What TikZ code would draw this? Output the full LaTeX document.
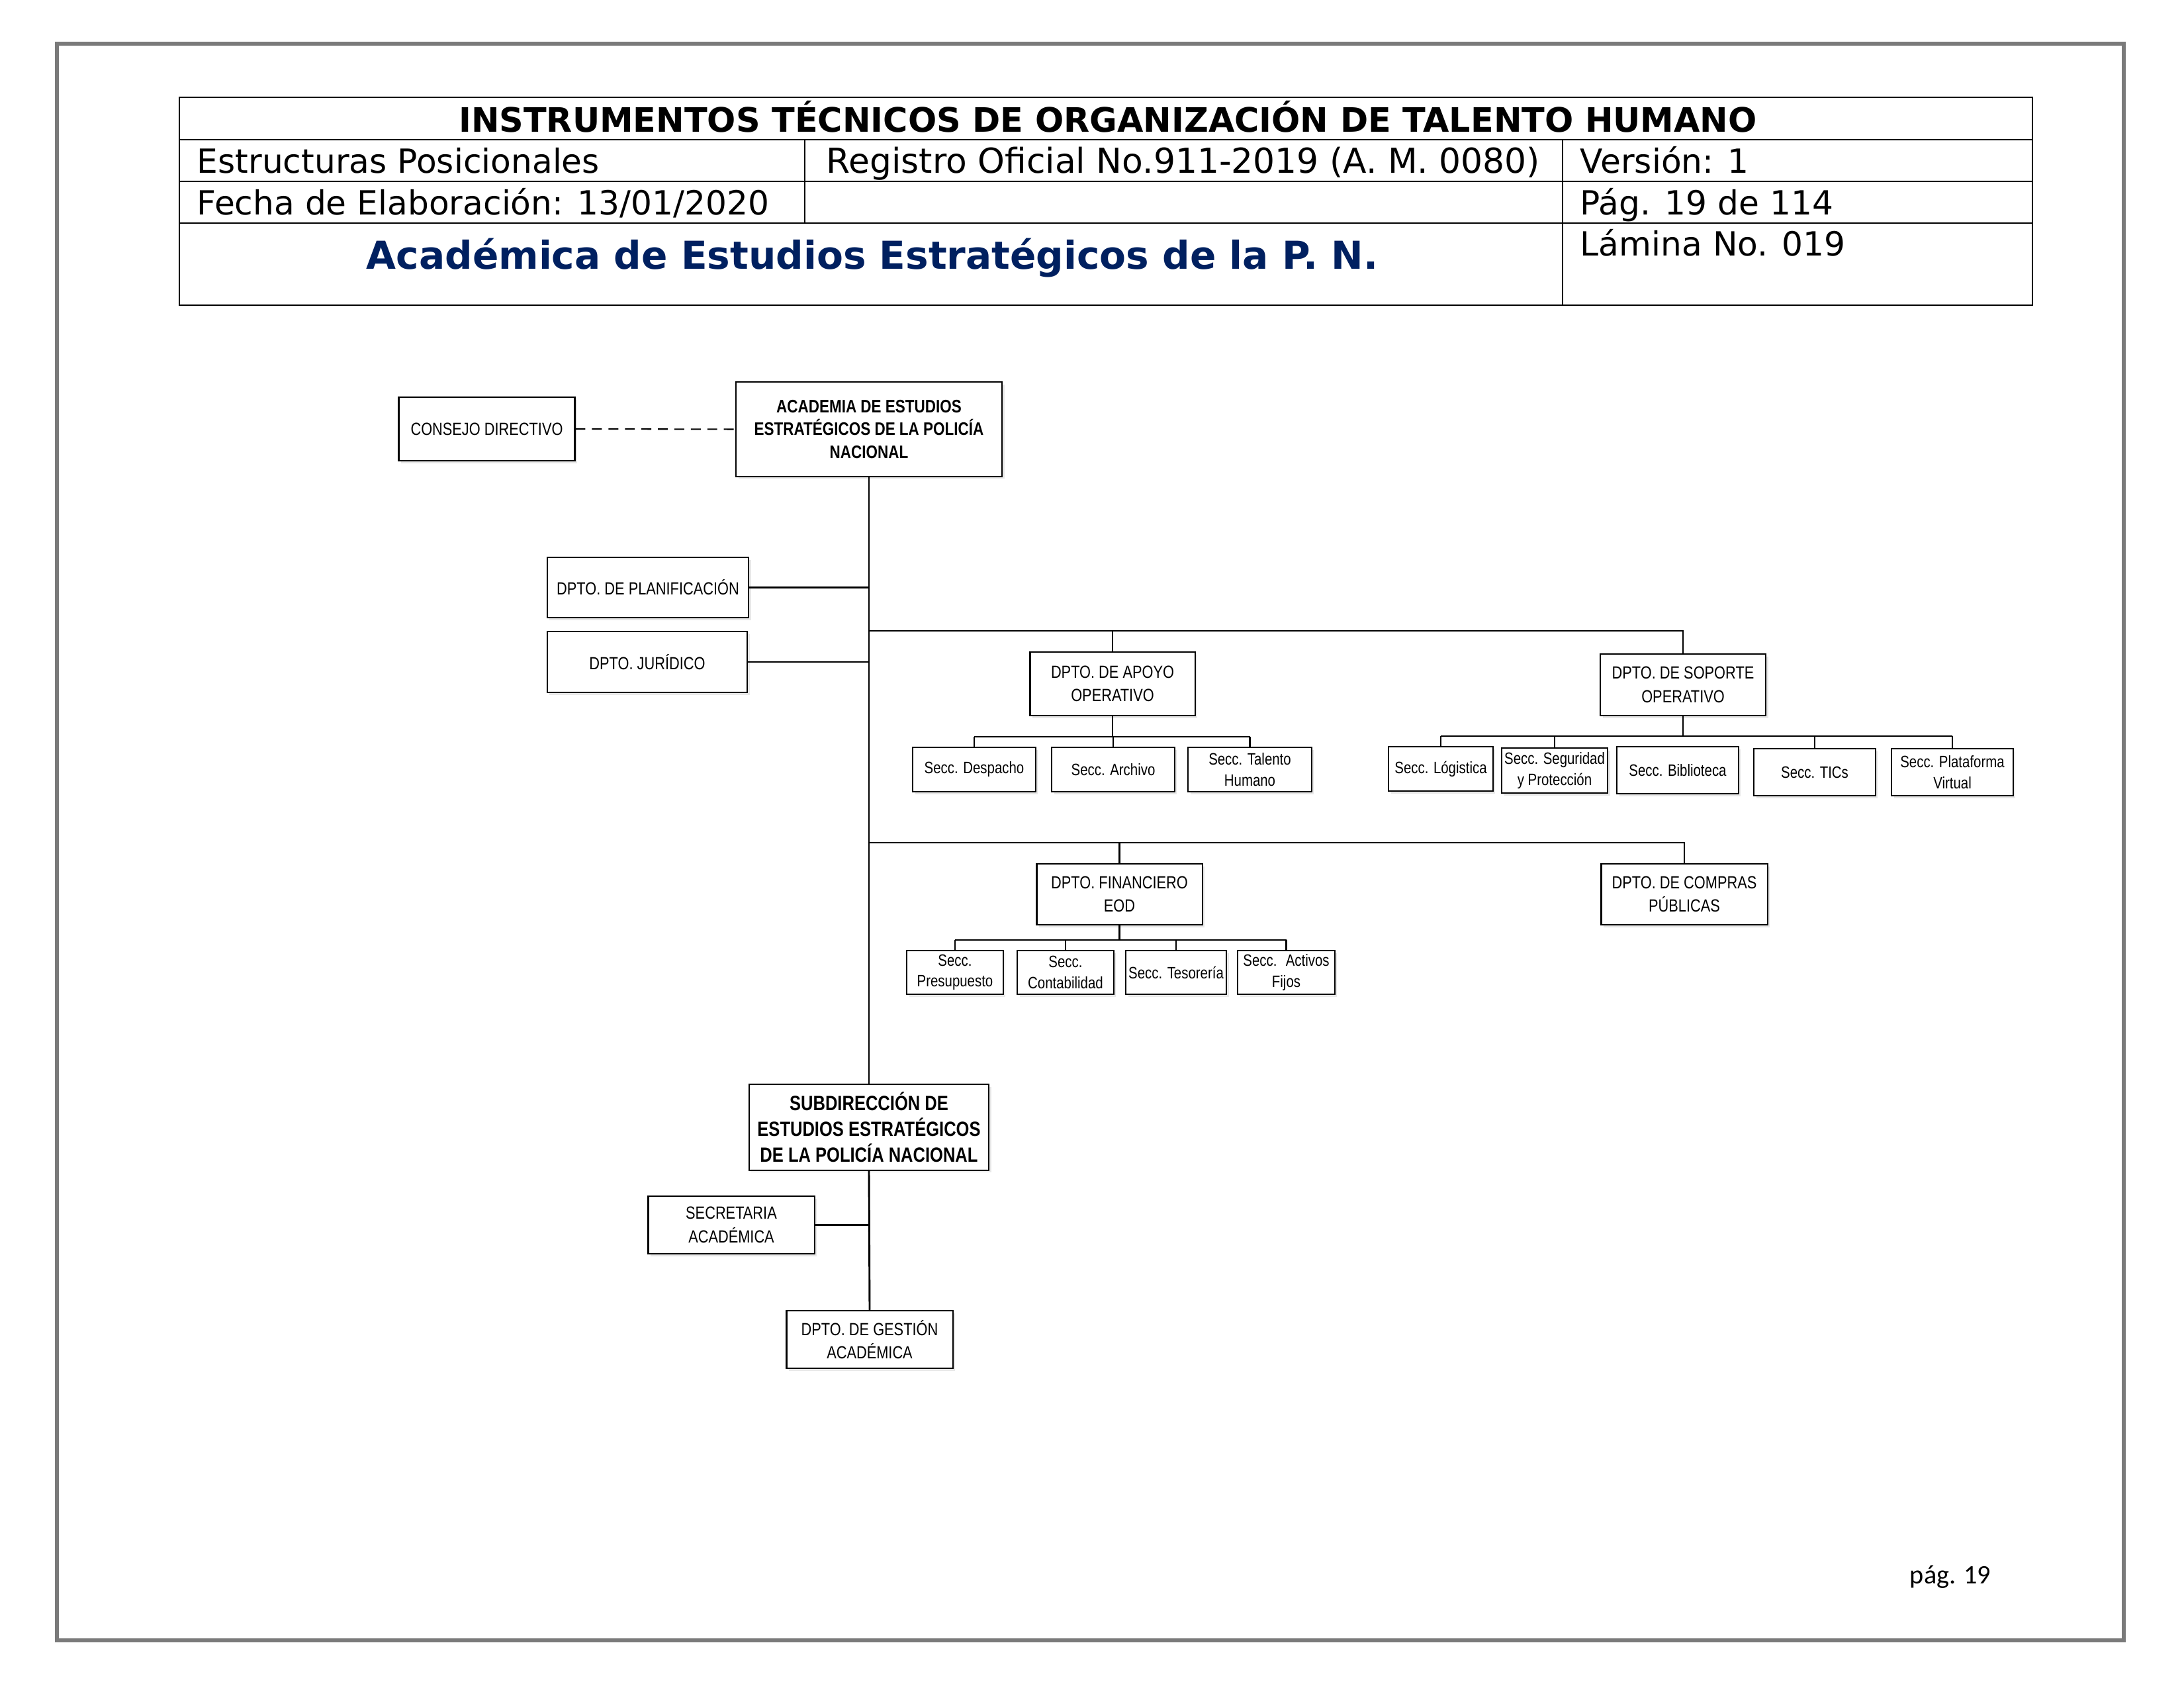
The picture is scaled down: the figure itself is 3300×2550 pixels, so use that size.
\documentclass[tikz,border=0pt]{standalone}
\usepackage{fontspec}
\setmainfont{DejaVu Sans}
\newfontfamily\orgfont[FakeStretch=0.82]{Liberation Sans}
\newfontfamily\pagefont{Carlito}
\usepackage{xcolor}
\usepackage{tikz}
\usetikzlibrary{positioning,shadows}

\definecolor{azultitulo}{RGB}{0,32,96}
\definecolor{grismarco}{RGB}{122,122,122}

\tikzset{
    tam/.style 2 args={minimum width=#1*0.24pt, minimum height=#2*0.24pt},
    caja/.style={draw, fill=white, line width=0.5pt, align=center, inner sep=1pt,
        drop shadow={shadow xshift=0.9pt, shadow yshift=-0.9pt, opacity=0.18},
        font=\orgfont\fontsize{6.4}{8.6}\selectfont},
    cajanegrita/.style={caja, font=\orgfont\bfseries\fontsize{6.6}{8.4}\selectfont},
    secc/.style={caja, font=\orgfont\fontsize{6}{7.6}\selectfont},
    linea/.style={line width=0.7pt},
    fino/.style={line width=0.5pt},
    celda/.style={anchor=base west, inner sep=0pt, font=\fontsize{12.1}{14}\selectfont}
}

\begin{document}
\begin{tikzpicture}[x=0.0846667mm, y=-0.0846667mm]
        \useasboundingbox (0,0) rectangle (3300,2550);

        % Page frame
        \draw[grismarco, line width=1.4pt] (86,66) rectangle (3209,2478);

        % Header table
        \draw[line width=0.6pt] (271,147) rectangle (3071,461);
        \draw[line width=0.6pt] (271,211) -- (3071,211);
        \draw[line width=0.6pt] (271,274) -- (3071,274);
        \draw[line width=0.6pt] (271,337) -- (3071,337);
        \draw[line width=0.5pt] (1216,211) -- (1216,337);
        \draw[line width=0.5pt] (2361,211) -- (2361,461);

        \node[anchor=base, inner sep=0pt, font=\bfseries\fontsize{12.25}{14}\selectfont] (titulo) at (1674,200) {INSTRUMENTOS TÉCNICOS DE ORGANIZACIÓN DE TALENTO HUMANO};
        \node[celda] (estructuras) at (297,262) {Estructuras Posicionales};
        \node[celda, anchor=base, font=\fontsize{12.5}{14}\selectfont] (registro) at (1788,262) {Registro Oficial No.911-2019 (A. M. 0080)};
        \node[celda] (version) at (2387,262) {Versión: 1};
        \node[celda] (fecha) at (297,325) {Fecha de Elaboración: 13/01/2020};
        \node[celda] (pagina) at (2387,325) {Pág. 19 de 114};
        \node[anchor=base, inner sep=0pt, text=azultitulo, font=\bfseries\fontsize{14}{16}\selectfont] (academica) at (1318,407) {Académica de Estudios Estratégicos de la P. N.};
        \node[celda] (lamina) at (2387,387) {Lámina No. 019};

        % Top level
        \node[caja, tam={267}{96}] (consejo) at (735.5,648) {CONSEJO DIRECTIVO};
        \node[cajanegrita, tam={404}{143}] (acad) at (1313,648.5) {ACADEMIA DE ESTUDIOS\\ESTRATÉGICOS DE LA POLICÍA\\NACIONAL};
        \node[caja, tam={306}{91}] (planif) at (979,887.5) {DPTO. DE PLANIFICACIÓN};
        \node[caja, tam={304}{92}] (juridico) at (978,1000) {DPTO. JURÍDICO};

        % Departments
        \node[caja, tam={250}{96}] (apoyo) at (1681,1033) {DPTO. DE APOYO\\OPERATIVO};
        \node[caja, tam={251}{93}] (soporte) at (2543,1034.5) {DPTO. DE SOPORTE\\OPERATIVO};
        \node[caja, tam={251}{92}] (financ) at (1691.5,1351) {DPTO. FINANCIERO\\EOD};
        \node[caja, tam={252}{92}] (compras) at (2545,1351) {DPTO. DE COMPRAS\\PÚBLICAS};

        % Sections of Apoyo
        \node[secc, tam={186}{67}] (despacho) at (1472,1162.5) {Secc. Despacho};
        \node[secc, tam={186}{67}] (archivo) at (1682,1162.5) {Secc. Archivo};
        \node[secc, tam={187}{67}] (talento) at (1888.5,1162.5) {Secc. Talento\\Humano};

        % Sections of Soporte
        \node[secc, tam={158}{67}] (logistica) at (2177,1161.5) {Secc. Lógistica};
        \node[secc, tam={156}{68}] (seguridad) at (2349,1164) {Secc. Seguridad\\y Protección};
        \node[secc, tam={184}{71}] (biblioteca) at (2535,1163.5) {Secc. Biblioteca};
        \node[secc, tam={184}{71}] (tics) at (2742,1166.5) {Secc. TICs};
        \node[secc, tam={184}{71}] (plataforma) at (2950,1166.5) {Secc. Plataforma\\Virtual};

        % Sections of Financiero
        \node[secc, tam={146}{66}] (presup) at (1443,1469) {Secc.\\Presupuesto};
        \node[secc, tam={146}{66}] (contab) at (1610,1469) {Secc.\\Contabilidad};
        \node[secc, tam={146}{66}] (tesor) at (1777,1469) {Secc. Tesorería};
        \node[secc, tam={147}{66}] (activos) at (1943.5,1469) {Secc.~ Activos\\Fijos};

        % Subdireccion
        \node[caja, tam={364}{130}, font=\orgfont\bfseries\fontsize{7.5}{9.4}\selectfont] (subdir) at (1313,1703) {SUBDIRECCIÓN DE\\ESTUDIOS ESTRATÉGICOS\\DE LA POLICÍA NACIONAL};
        \node[caja, tam={252}{87}] (secret) at (1105,1850.5) {SECRETARIA\\ACADÉMICA};
        \node[caja, tam={252}{87}] (gestion) at (1314,2023.5) {DPTO. DE GESTIÓN\\ACADÉMICA};

        % Branch points
        \coordinate (ramaA) at (1313,953);
        \coordinate (ramaB) at (1313,1273);
        \coordinate (busApoyo) at (1681,1113);
        \coordinate (busSoporte) at (2543,1112);
        \coordinate (busFinan) at (1692,1420);

        % Connectors
        \draw[dash pattern=on 3.6pt off 2.4pt, line width=0.5pt] (consejo.east) -- (acad.west);
        \draw[linea] (acad.south) -- (subdir.north);
        \draw[linea] (planif.east) -- (planif.east -| acad.south);
        \draw[linea] (juridico.east) -- (juridico.east -| acad.south);
        \draw[linea] (ramaA) -| (soporte.north);
        \draw[fino] (apoyo.north) -- (apoyo.north |- ramaA);
        \draw[linea] (ramaB) -| (compras.north);
        \draw[fino] (financ.north) -- (financ.north |- ramaB);

        % Buses to sections
        \draw[linea] (despacho.north |- busApoyo) -- (talento.north |- busApoyo);
        \draw[fino] (apoyo.south) -- (apoyo.south |- busApoyo);
        \foreach \s in {despacho,archivo,talento}
            \draw[fino] (\s.north) -- (\s.north |- busApoyo);

        \draw[linea] (logistica.north |- busSoporte) -- (plataforma.north |- busSoporte);
        \draw[fino] (soporte.south) -- (busSoporte);
        \foreach \s in {logistica,seguridad,tics,plataforma}
            \draw[fino] (\s.north) -- (\s.north |- busSoporte);

        \draw[linea] (presup.north |- busFinan) -- (activos.north |- busFinan);
        \draw[fino] (financ.south) -- (financ.south |- busFinan);
        \foreach \s in {presup,contab,tesor,activos}
            \draw[fino] (\s.north) -- (\s.north |- busFinan);

        \draw[linea] (secret.east) -- (secret.east -| subdir.south);
        \draw[linea] (subdir.south) -- (gestion.north);

        % Page number
        \node[anchor=base west, inner sep=0pt, font=\pagefont\fontsize{9.7}{12}\selectfont] (numpag) at (2885,2392) {pág. 19};

\end{tikzpicture}
\end{document}
